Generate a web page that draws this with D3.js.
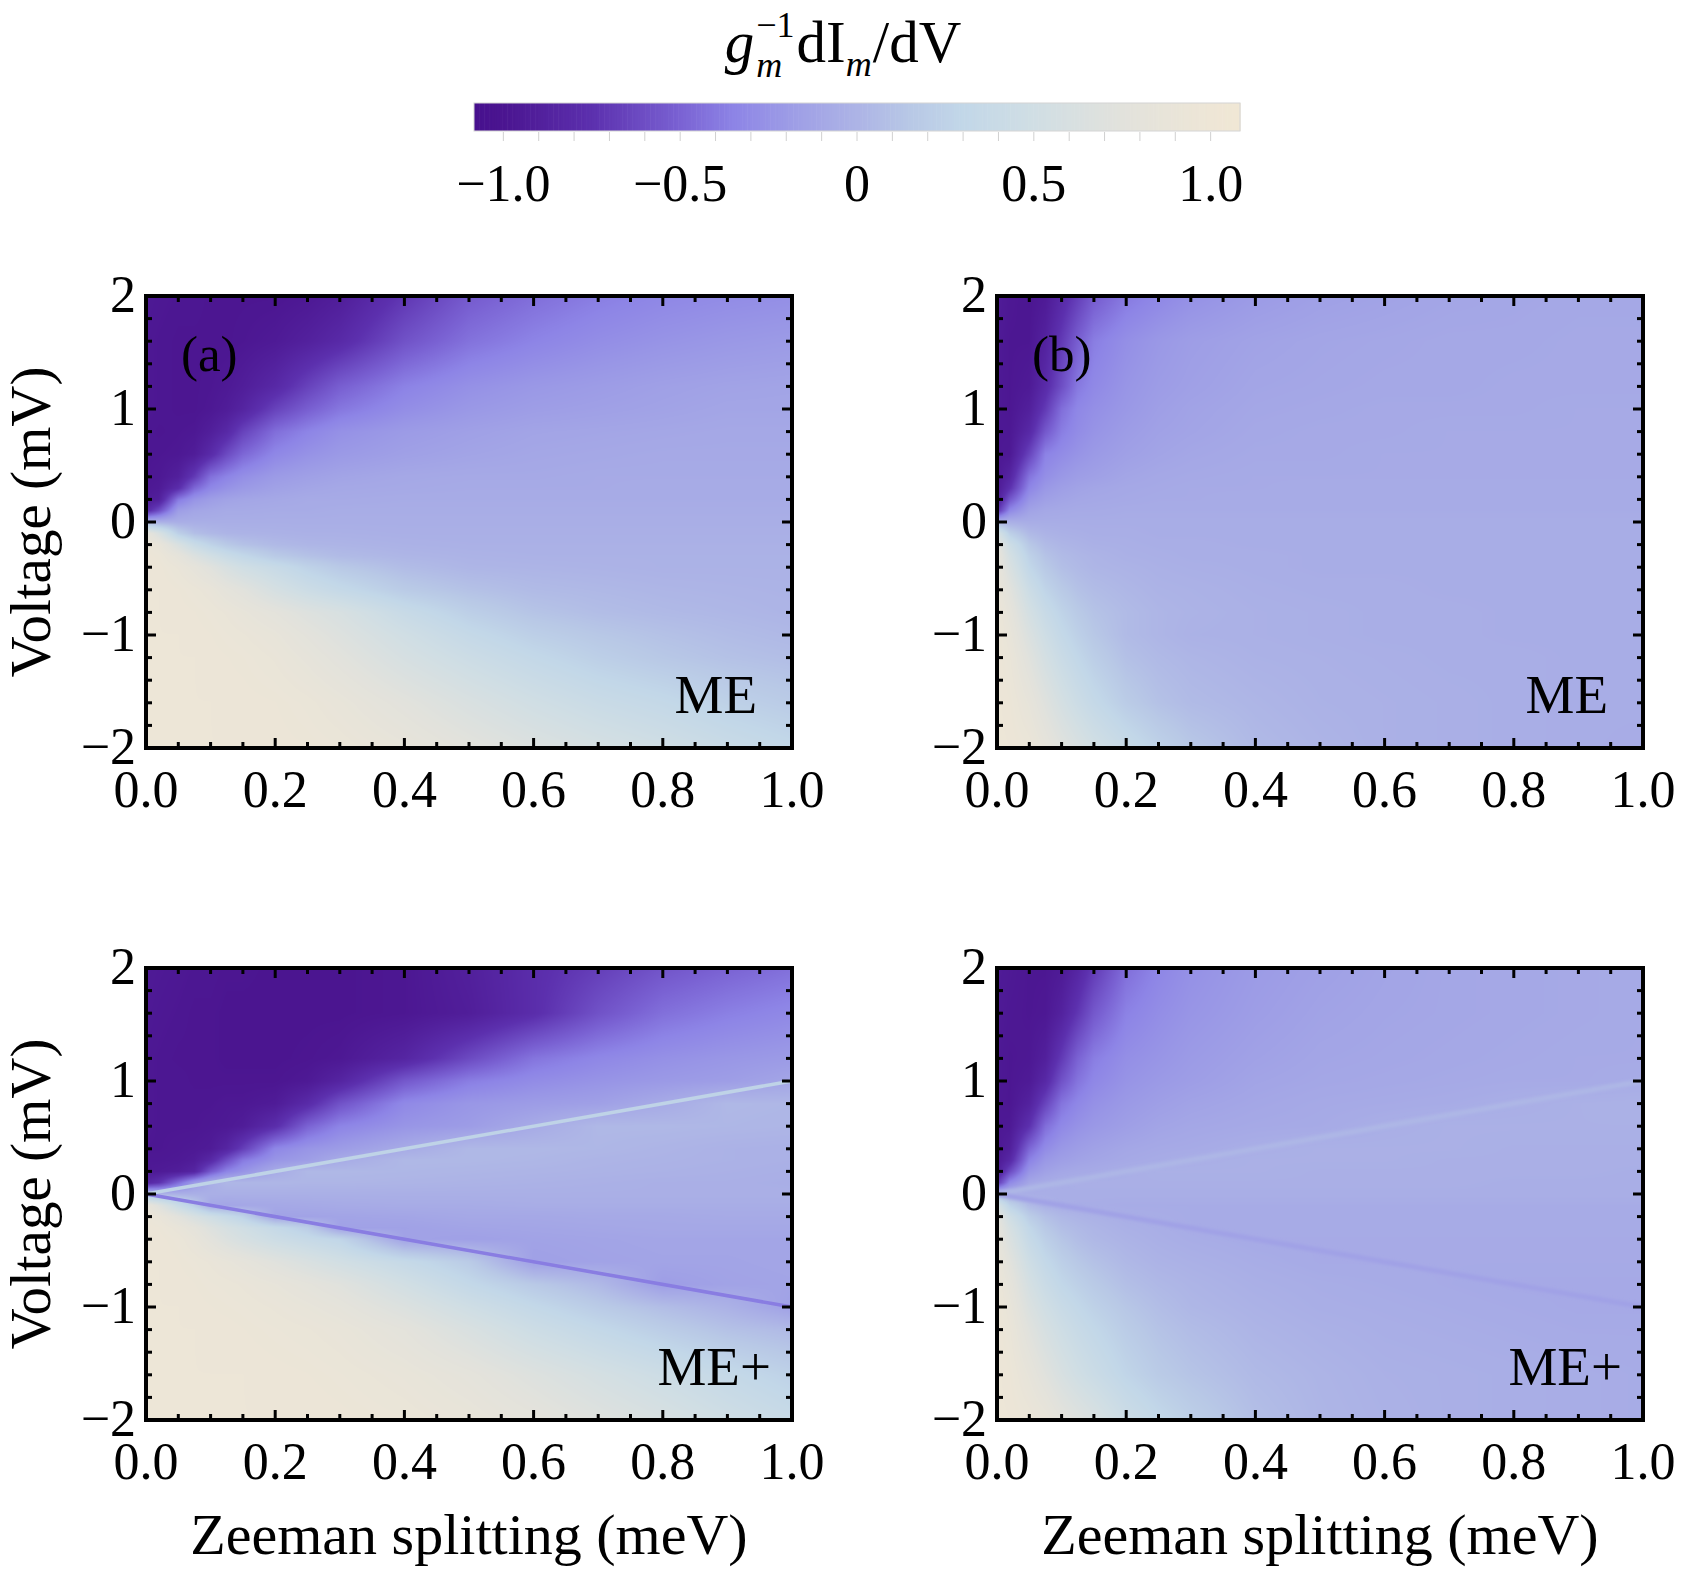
<!DOCTYPE html>
<html><head><meta charset="utf-8">
<script src="https://cdn.jsdelivr.net/npm/d3@7"></script>
<style>body{margin:0;background:#fff}svg{display:block}</style>
</head><body><svg id="chart"></svg>
<script>
// ---------------- data ----------------
const zeemanB = [0, 0.02, 0.05, 0.075, 0.1, 0.125, 0.15, 0.2, 0.25, 0.3, 0.4, 0.5, 0.6, 0.7, 0.8, 0.9, 1.0];
const voltageV = [2, 1.6, 1.2, 1.0, 0.8, 0.6, 0.4, 0.3, 0.2, 0.1, 0, -0.1, -0.2, -0.3, -0.4, -0.6, -0.8, -1.0, -1.2, -1.6, -2];

// g_m^-1 dI_m/dV, rows = voltageV, columns = zeemanB
const panelA = [
 [-0.96,-0.97,-0.98,-0.98,-0.99,-0.99,-0.99,-0.99,-0.97,-0.92,-0.72,-0.54,-0.45,-0.38,-0.33,-0.30,-0.28],
 [-0.97,-0.98,-0.99,-0.99,-0.99,-0.99,-0.98,-0.95,-0.89,-0.81,-0.58,-0.43,-0.35,-0.29,-0.25,-0.22,-0.20],
 [-0.97,-0.98,-0.99,-0.99,-0.98,-0.96,-0.92,-0.82,-0.66,-0.52,-0.36,-0.27,-0.22,-0.19,-0.16,-0.14,-0.13],
 [-0.97,-0.98,-0.99,-0.99,-0.97,-0.93,-0.86,-0.66,-0.52,-0.41,-0.29,-0.22,-0.18,-0.16,-0.14,-0.12,-0.12],
 [-0.98,-0.99,-0.98,-0.97,-0.91,-0.82,-0.66,-0.45,-0.35,-0.27,-0.20,-0.16,-0.13,-0.12,-0.11,-0.10,-0.10],
 [-0.98,-0.98,-0.97,-0.93,-0.80,-0.62,-0.48,-0.33,-0.26,-0.21,-0.16,-0.13,-0.11,-0.10,-0.09,-0.09,-0.09],
 [-0.98,-0.97,-0.90,-0.70,-0.44,-0.35,-0.28,-0.20,-0.16,-0.13,-0.10,-0.09,-0.09,-0.08,-0.08,-0.08,-0.08],
 [-0.97,-0.95,-0.78,-0.48,-0.33,-0.26,-0.21,-0.15,-0.12,-0.10,-0.09,-0.08,-0.08,-0.08,-0.07,-0.07,-0.07],
 [-0.95,-0.90,-0.40,-0.25,-0.18,-0.14,-0.12,-0.10,-0.08,-0.08,-0.07,-0.07,-0.07,-0.07,-0.07,-0.07,-0.07],
 [-0.82,-0.60,-0.18,-0.12,-0.10,-0.08,-0.08,-0.07,-0.07,-0.06,-0.06,-0.06,-0.06,-0.06,-0.06,-0.06,-0.06],
 [ 0.00,-0.03,-0.05,-0.05,-0.05,-0.05,-0.05,-0.05,-0.05,-0.05,-0.05,-0.05,-0.05,-0.05,-0.05,-0.05,-0.05],
 [ 0.85, 0.62, 0.22, 0.08, 0.03, 0.00,-0.01,-0.02,-0.03,-0.03,-0.04,-0.04,-0.04,-0.04,-0.04,-0.04,-0.04],
 [ 0.95, 0.88, 0.62, 0.40, 0.26, 0.16, 0.10, 0.04, 0.01, 0.00,-0.02,-0.03,-0.03,-0.03,-0.03,-0.03,-0.03],
 [ 0.96, 0.94, 0.82, 0.66, 0.52, 0.40, 0.31, 0.17, 0.10, 0.05, 0.01,-0.01,-0.02,-0.02,-0.02,-0.02,-0.02],
 [ 0.97, 0.96, 0.90, 0.82, 0.72, 0.60, 0.50, 0.38, 0.25, 0.16, 0.06, 0.01, 0.00,-0.01,-0.02,-0.02,-0.02],
 [ 0.97, 0.97, 0.95, 0.92, 0.88, 0.80, 0.74, 0.57, 0.44, 0.34, 0.18, 0.10, 0.05, 0.03, 0.01, 0.00,-0.01],
 [ 0.97, 0.97, 0.96, 0.95, 0.93, 0.90, 0.86, 0.78, 0.68, 0.60, 0.38, 0.22, 0.12, 0.07, 0.04, 0.02, 0.00],
 [ 0.97, 0.97, 0.97, 0.96, 0.95, 0.93, 0.91, 0.86, 0.77, 0.68, 0.50, 0.34, 0.22, 0.15, 0.10, 0.06, 0.03],
 [ 0.97, 0.97, 0.97, 0.97, 0.96, 0.95, 0.94, 0.90, 0.83, 0.75, 0.58, 0.44, 0.32, 0.22, 0.15, 0.10, 0.07],
 [ 0.97, 0.97, 0.97, 0.97, 0.97, 0.96, 0.96, 0.95, 0.92, 0.87, 0.75, 0.62, 0.50, 0.40, 0.33, 0.24, 0.18],
 [ 0.97, 0.97, 0.97, 0.97, 0.97, 0.97, 0.97, 0.96, 0.95, 0.93, 0.86, 0.76, 0.66, 0.57, 0.49, 0.40, 0.32]
];
const panelB = [
 [-0.93,-0.97,-0.99,-0.95,-0.82,-0.68,-0.54,-0.40,-0.33,-0.27,-0.20,-0.16,-0.14,-0.12,-0.11,-0.10,-0.10],
 [-0.95,-0.98,-0.98,-0.88,-0.70,-0.52,-0.38,-0.28,-0.22,-0.18,-0.14,-0.12,-0.11,-0.10,-0.10,-0.09,-0.09],
 [-0.96,-0.98,-0.95,-0.80,-0.60,-0.40,-0.32,-0.24,-0.19,-0.16,-0.12,-0.11,-0.10,-0.10,-0.09,-0.09,-0.09],
 [-0.96,-0.98,-0.90,-0.70,-0.45,-0.33,-0.28,-0.22,-0.17,-0.14,-0.11,-0.10,-0.09,-0.09,-0.09,-0.08,-0.08],
 [-0.97,-0.97,-0.82,-0.55,-0.38,-0.30,-0.25,-0.19,-0.15,-0.13,-0.10,-0.09,-0.09,-0.08,-0.08,-0.08,-0.08],
 [-0.97,-0.96,-0.65,-0.36,-0.30,-0.25,-0.21,-0.16,-0.13,-0.11,-0.09,-0.09,-0.08,-0.08,-0.08,-0.08,-0.08],
 [-0.97,-0.85,-0.42,-0.28,-0.22,-0.18,-0.16,-0.12,-0.10,-0.09,-0.08,-0.08,-0.08,-0.08,-0.08,-0.08,-0.08],
 [-0.96,-0.75,-0.34,-0.22,-0.17,-0.14,-0.12,-0.10,-0.09,-0.08,-0.08,-0.07,-0.07,-0.07,-0.07,-0.07,-0.07],
 [-0.93,-0.55,-0.24,-0.16,-0.13,-0.11,-0.10,-0.09,-0.08,-0.08,-0.07,-0.07,-0.07,-0.07,-0.07,-0.07,-0.07],
 [-0.75,-0.32,-0.14,-0.10,-0.09,-0.08,-0.08,-0.07,-0.07,-0.07,-0.07,-0.07,-0.07,-0.07,-0.07,-0.07,-0.07],
 [ 0.00,-0.04,-0.06,-0.06,-0.06,-0.06,-0.06,-0.06,-0.06,-0.06,-0.06,-0.06,-0.06,-0.06,-0.06,-0.06,-0.06],
 [ 0.60, 0.22, 0.04,-0.01,-0.03,-0.04,-0.05,-0.05,-0.06,-0.06,-0.06,-0.06,-0.06,-0.06,-0.06,-0.06,-0.06],
 [ 0.80, 0.45, 0.15, 0.05, 0.01,-0.01,-0.03,-0.04,-0.05,-0.05,-0.06,-0.06,-0.06,-0.06,-0.06,-0.06,-0.06],
 [ 0.86, 0.55, 0.24, 0.11, 0.05, 0.02, 0.00,-0.03,-0.04,-0.05,-0.05,-0.06,-0.06,-0.06,-0.06,-0.06,-0.06],
 [ 0.88, 0.62, 0.30, 0.16, 0.08, 0.04, 0.01,-0.01,-0.03,-0.04,-0.05,-0.06,-0.06,-0.06,-0.06,-0.06,-0.06],
 [ 0.92, 0.74, 0.44, 0.27, 0.17, 0.10, 0.06, 0.02,-0.01,-0.02,-0.04,-0.05,-0.05,-0.06,-0.06,-0.06,-0.06],
 [ 0.95, 0.82, 0.55, 0.38, 0.26, 0.17, 0.11, 0.05, 0.01,-0.01,-0.03,-0.04,-0.05,-0.05,-0.06,-0.06,-0.06],
 [ 0.97, 0.87, 0.64, 0.47, 0.33, 0.23, 0.15, 0.05, 0.01,-0.02,-0.03,-0.04,-0.05,-0.05,-0.06,-0.06,-0.06],
 [ 0.97, 0.91, 0.72, 0.55, 0.41, 0.30, 0.21, 0.09, 0.04, 0.01,-0.02,-0.03,-0.04,-0.05,-0.05,-0.06,-0.06],
 [ 0.98, 0.95, 0.84, 0.70, 0.56, 0.44, 0.34, 0.19, 0.10, 0.05, 0.01,-0.02,-0.03,-0.04,-0.05,-0.06,-0.06],
 [ 0.98, 0.97, 0.93, 0.83, 0.72, 0.62, 0.52, 0.38, 0.25, 0.15, 0.04, 0.00,-0.03,-0.04,-0.05,-0.06,-0.07]
];
const panelC = [
 [-0.95,-0.96,-0.97,-0.98,-0.98,-0.99,-0.99,-1.00,-1.00,-1.00,-0.98,-0.90,-0.78,-0.68,-0.57,-0.50,-0.44],
 [-0.96,-0.97,-0.98,-0.99,-0.99,-1.00,-1.00,-1.00,-1.00,-1.00,-0.98,-0.92,-0.78,-0.58,-0.44,-0.37,-0.32],
 [-0.97,-0.98,-0.99,-0.99,-0.99,-1.00,-1.00,-1.00,-0.99,-0.97,-0.85,-0.62,-0.42,-0.33,-0.27,-0.23,-0.20],
 [-0.97,-0.98,-0.98,-0.99,-0.99,-0.99,-0.99,-0.99,-0.96,-0.86,-0.55,-0.38,-0.30,-0.25,-0.21,-0.18,-0.12],
 [-0.97,-0.98,-0.98,-0.98,-0.98,-0.97,-0.97,-0.94,-0.80,-0.58,-0.32,-0.23,-0.19,-0.16,-0.08, 0.03, 0.02],
 [-0.97,-0.98,-0.98,-0.98,-0.97,-0.96,-0.93,-0.78,-0.50,-0.35,-0.24,-0.19,-0.08, 0.03, 0.03, 0.02, 0.01],
 [-0.98,-0.98,-0.97,-0.96,-0.94,-0.85,-0.68,-0.33,-0.24,-0.19,-0.08, 0.03, 0.03, 0.02, 0.00,-0.02,-0.03],
 [-0.97,-0.97,-0.96,-0.93,-0.82,-0.60,-0.40,-0.24,-0.18,-0.08, 0.03, 0.03, 0.02, 0.00,-0.01,-0.02,-0.03],
 [-0.96,-0.95,-0.92,-0.85,-0.55,-0.35,-0.25,-0.08, 0.03, 0.03, 0.02, 0.01, 0.00,-0.01,-0.02,-0.03,-0.04],
 [-0.85,-0.75,-0.45,-0.20,-0.06, 0.02, 0.02, 0.02, 0.01, 0.01, 0.00,-0.01,-0.02,-0.03,-0.04,-0.04,-0.05],
 [ 0.05, 0.00,-0.03,-0.04,-0.04,-0.04,-0.04,-0.04,-0.04,-0.04,-0.04,-0.04,-0.04,-0.04,-0.04,-0.04,-0.04],
 [ 0.88, 0.70, 0.40, 0.20,-0.10,-0.12,-0.11,-0.10,-0.09,-0.08,-0.07,-0.07,-0.06,-0.06,-0.06,-0.06,-0.06],
 [ 0.95, 0.90, 0.75, 0.60, 0.48, 0.36, 0.25,-0.14,-0.14,-0.13,-0.12,-0.10,-0.10,-0.09,-0.09,-0.08,-0.08],
 [ 0.96, 0.95, 0.88, 0.80, 0.68, 0.58, 0.50, 0.35, 0.20,-0.15,-0.15,-0.13,-0.12,-0.11,-0.10,-0.10,-0.10],
 [ 0.97, 0.96, 0.93, 0.86, 0.76, 0.66, 0.58, 0.45, 0.36, 0.28,-0.14,-0.16,-0.14,-0.13,-0.12,-0.12,-0.12],
 [ 0.97, 0.97, 0.95, 0.93, 0.90, 0.86, 0.82, 0.72, 0.62, 0.52, 0.35, 0.18,-0.16,-0.14,-0.13,-0.13,-0.12],
 [ 0.97, 0.97, 0.96, 0.95, 0.93, 0.92, 0.90, 0.85, 0.79, 0.72, 0.52, 0.32, 0.16, 0.04,-0.18,-0.14,-0.13],
 [ 0.97, 0.97, 0.97, 0.96, 0.95, 0.94, 0.93, 0.90, 0.86, 0.81, 0.66, 0.48, 0.32, 0.18, 0.07,-0.02,-0.16],
 [ 0.97, 0.97, 0.97, 0.97, 0.96, 0.96, 0.95, 0.93, 0.91, 0.88, 0.78, 0.62, 0.45, 0.32, 0.20, 0.10, 0.04],
 [ 0.97, 0.97, 0.97, 0.97, 0.97, 0.97, 0.97, 0.96, 0.95, 0.93, 0.88, 0.80, 0.68, 0.56, 0.45, 0.34, 0.24],
 [ 0.97, 0.97, 0.97, 0.97, 0.97, 0.97, 0.97, 0.97, 0.97, 0.96, 0.93, 0.88, 0.80, 0.70, 0.60, 0.48, 0.38]
];
const panelD = [
 [-0.94,-0.96,-0.98,-0.98,-0.95,-0.85,-0.70,-0.45,-0.34,-0.27,-0.20,-0.16,-0.13,-0.11,-0.10,-0.09,-0.08],
 [-0.95,-0.97,-0.98,-0.97,-0.88,-0.72,-0.55,-0.36,-0.29,-0.24,-0.18,-0.14,-0.12,-0.11,-0.10,-0.09,-0.08],
 [-0.96,-0.98,-0.97,-0.90,-0.70,-0.50,-0.38,-0.28,-0.24,-0.20,-0.15,-0.12,-0.11,-0.10,-0.09,-0.08,-0.08],
 [-0.96,-0.98,-0.95,-0.82,-0.58,-0.42,-0.33,-0.25,-0.21,-0.18,-0.13,-0.11,-0.10,-0.09,-0.08,-0.08,-0.07],
 [-0.97,-0.98,-0.88,-0.65,-0.42,-0.33,-0.27,-0.21,-0.17,-0.14,-0.11,-0.09,-0.08,-0.07,-0.05,-0.03,-0.02],
 [-0.97,-0.96,-0.75,-0.45,-0.32,-0.26,-0.22,-0.17,-0.13,-0.11,-0.09,-0.08,-0.05,-0.03,-0.03,-0.03,-0.03],
 [-0.97,-0.90,-0.48,-0.30,-0.22,-0.18,-0.15,-0.11,-0.09,-0.08,-0.05,-0.03,-0.03,-0.03,-0.04,-0.04,-0.04],
 [-0.96,-0.82,-0.36,-0.22,-0.17,-0.14,-0.12,-0.09,-0.07,-0.05,-0.03,-0.03,-0.03,-0.04,-0.04,-0.04,-0.04],
 [-0.93,-0.62,-0.24,-0.15,-0.11,-0.09,-0.08,-0.05,-0.03,-0.03,-0.03,-0.04,-0.04,-0.04,-0.04,-0.04,-0.05],
 [-0.72,-0.32,-0.11,-0.07,-0.05,-0.04,-0.04,-0.04,-0.04,-0.04,-0.04,-0.04,-0.04,-0.04,-0.05,-0.05,-0.05],
 [ 0.05,-0.03,-0.05,-0.05,-0.05,-0.05,-0.05,-0.05,-0.05,-0.05,-0.05,-0.05,-0.05,-0.05,-0.05,-0.05,-0.05],
 [ 0.60, 0.25, 0.05,-0.02,-0.05,-0.06,-0.06,-0.07,-0.07,-0.07,-0.07,-0.07,-0.07,-0.07,-0.07,-0.07,-0.07],
 [ 0.78, 0.48, 0.20, 0.09, 0.03, 0.00,-0.02,-0.05,-0.06,-0.07,-0.07,-0.07,-0.07,-0.07,-0.07,-0.07,-0.07],
 [ 0.83, 0.58, 0.30, 0.16, 0.08, 0.04, 0.01,-0.03,-0.05,-0.07,-0.07,-0.07,-0.07,-0.07,-0.07,-0.07,-0.07],
 [ 0.86, 0.64, 0.36, 0.22, 0.13, 0.07, 0.03,-0.01,-0.04,-0.06,-0.08,-0.08,-0.08,-0.08,-0.08,-0.08,-0.08],
 [ 0.91, 0.74, 0.47, 0.32, 0.22, 0.15, 0.10, 0.03,-0.01,-0.03,-0.06,-0.08,-0.08,-0.08,-0.08,-0.08,-0.08],
 [ 0.95, 0.82, 0.56, 0.41, 0.30, 0.23, 0.17, 0.08, 0.03, 0.00,-0.04,-0.06,-0.07,-0.08,-0.09,-0.09,-0.09],
 [ 0.97, 0.87, 0.64, 0.50, 0.39, 0.31, 0.24, 0.14, 0.07, 0.02,-0.02,-0.05,-0.06,-0.07,-0.08,-0.09,-0.09],
 [ 0.97, 0.91, 0.72, 0.58, 0.47, 0.38, 0.31, 0.19, 0.11, 0.06, 0.00,-0.03,-0.05,-0.06,-0.07,-0.08,-0.08],
 [ 0.98, 0.95, 0.84, 0.72, 0.60, 0.50, 0.42, 0.28, 0.18, 0.12, 0.04, 0.00,-0.03,-0.04,-0.05,-0.06,-0.07],
 [ 0.98, 0.97, 0.93, 0.88, 0.78, 0.70, 0.62, 0.44, 0.32, 0.22, 0.08, 0.01,-0.02,-0.04,-0.05,-0.06,-0.07]
];

// resonance lines V = +B and V = -B (visible in ME+ panels)
const resonanceB = [0, 1];
const upperResonanceV = [0, 1];
const lowerResonanceV = [0, -1];
const resonanceValuesC = [0.26, -0.38];
const resonanceValuesD = [0.02, -0.15];

const xTicks = [0, 0.2, 0.4, 0.6, 0.8, 1.0];
const xTickLabels = ["0.0", "0.2", "0.4", "0.6", "0.8", "1.0"];
const yTicks = [2, 1, 0, -1, -2];
const yTickLabels = ["2", "1", "0", "\u22121", "\u22122"];
const cbTicks = [-1, -0.5, 0, 0.5, 1];
const cbTickLabels = ["\u22121.0", "\u22120.5", "0", "0.5", "1.0"];

const colorStops = [-1.083, -1, -0.75, -0.5, -0.35, -0.22, -0.1, 0, 0.15, 0.3, 0.5, 0.75, 1, 1.083];
const colorHex = ["#47108e", "#4b1590", "#5c30ae", "#7a62d3", "#8d84e6", "#9a98e6", "#a5a8e6",
                  "#adb4e6", "#b8c8e6", "#c2d7e8", "#d0dee4", "#e2e2dc", "#eee6d6", "#f0e7d5"];

const panelLetters = ["(a)", "(b)", "", ""];
const panelTags = ["ME", "ME", "ME+", "ME+"];

// ---------------- drawing ----------------
const W = 1686, H = 1569;
const FONT = "'Liberation Serif','Times New Roman',serif";
const svg = d3.select('#chart').attr('width', W).attr('height', H);
svg.append('rect').attr('width', W).attr('height', H).attr('fill', '#fff');
const defs = svg.append('defs');

const color = d3.scaleLinear().domain(colorStops).range(colorHex).interpolate(d3.interpolateRgb).clamp(true);
const LUTN = 1024;
const lut = d3.range(LUTN).map(k => d3.rgb(color(-1.083 + 2.166 * k / (LUTN - 1))));

const panels = [
  {grid: panelA, x0: 146, x1: 792, y0: 296, y1: 748, res: null, yTitle: true, xTitle: false},
  {grid: panelB, x0: 997, x1: 1643, y0: 296, y1: 748, res: null, yTitle: false, xTitle: false},
  {grid: panelC, x0: 146, x1: 792, y0: 968, y1: 1420, res: resonanceValuesC, resW: 3.5, resBlur: 0.7, yTitle: true, xTitle: true},
  {grid: panelD, x0: 997, x1: 1643, y0: 968, y1: 1420, res: resonanceValuesD, resW: 5, resBlur: 1.5, yTitle: false, xTitle: true}
];

panels.forEach((p, idx) => {
  const xs = d3.scaleLinear().domain([0, 1]).range([p.x0, p.x1]);
  const ys = d3.scaleLinear().domain([-2, 2]).range([p.y1, p.y0]);
  const g = svg.append('g');

  // heat map (bilinear shading between the read grid values)
  const w = Math.round(p.x1 - p.x0), h = Math.round(p.y1 - p.y0);
  const cv = document.createElement('canvas'); cv.width = w; cv.height = h;
  const ctx = cv.getContext('2d'); const img = ctx.createImageData(w, h);
  const ci = new Int32Array(w), ct = new Float32Array(w);
  for (let px = 0; px < w; px++) {
    const b = xs.invert(p.x0 + px + 0.5);
    let i = d3.bisectRight(zeemanB, b) - 1;
    i = Math.max(0, Math.min(zeemanB.length - 2, i));
    ci[px] = i;
    ct[px] = Math.max(0, Math.min(1, (b - zeemanB[i]) / (zeemanB[i + 1] - zeemanB[i])));
  }
  for (let py = 0; py < h; py++) {
    const v = ys.invert(p.y0 + py + 0.5);
    let j = 0;
    while (j < voltageV.length - 2 && v < voltageV[j + 1]) j++;
    const tv = Math.max(0, Math.min(1, (voltageV[j] - v) / (voltageV[j] - voltageV[j + 1])));
    const r0 = p.grid[j], r1 = p.grid[j + 1];
    for (let px = 0; px < w; px++) {
      const i = ci[px], t = ct[px];
      const a = r0[i] * (1 - t) + r0[i + 1] * t;
      const c = r1[i] * (1 - t) + r1[i + 1] * t;
      const val = a * (1 - tv) + c * tv;
      let k = Math.round((val + 1.083) / 2.166 * (LUTN - 1));
      k = Math.max(0, Math.min(LUTN - 1, k));
      const col = lut[k], o = (py * w + px) * 4;
      img.data[o] = col.r; img.data[o + 1] = col.g; img.data[o + 2] = col.b; img.data[o + 3] = 255;
    }
  }
  ctx.putImageData(img, 0, 0);
  g.append('image').attr('x', p.x0).attr('y', p.y0).attr('width', w).attr('height', h)
    .attr('preserveAspectRatio', 'none').attr('href', cv.toDataURL());

  // resonance lines
  if (p.res) {
    const cid = 'clip' + idx, fid = 'blur' + idx;
    defs.append('clipPath').attr('id', cid).append('rect')
      .attr('x', p.x0).attr('y', p.y0).attr('width', p.x1 - p.x0).attr('height', p.y1 - p.y0);
    defs.append('filter').attr('id', fid).attr('x', '-10%').attr('y', '-10%').attr('width', '120%').attr('height', '120%')
      .append('feGaussianBlur').attr('stdDeviation', p.resBlur);
    const line = d3.line().x(d => xs(d[0])).y(d => ys(d[1]));
    const lg = g.append('g').attr('clip-path', `url(#${cid})`).attr('filter', `url(#${fid})`);
    [upperResonanceV, lowerResonanceV].forEach((vv, li) => {
      lg.append('path').attr('d', line(resonanceB.map((b, m) => [b, vv[m]])))
        .attr('fill', 'none').attr('stroke', color(p.res[li])).attr('stroke-width', p.resW);
    });
  }

  // ticks (inside, all four sides)
  const tg = g.append('g').attr('stroke', '#000').attr('stroke-width', 3);
  d3.range(0, 1.0001, 0.05).forEach(t => {
    const major = Math.abs(t * 5 - Math.round(t * 5)) < 1e-6;
    const L = major ? 10 : 6;
    tg.append('line').attr('x1', xs(t)).attr('x2', xs(t)).attr('y1', p.y1).attr('y2', p.y1 - L);
    tg.append('line').attr('x1', xs(t)).attr('x2', xs(t)).attr('y1', p.y0).attr('y2', p.y0 + L);
  });
  d3.range(-2, 2.0001, 0.2).forEach(t => {
    const major = Math.abs(t - Math.round(t)) < 1e-6;
    const L = major ? 10 : 6;
    tg.append('line').attr('y1', ys(t)).attr('y2', ys(t)).attr('x1', p.x0).attr('x2', p.x0 + L);
    tg.append('line').attr('y1', ys(t)).attr('y2', ys(t)).attr('x1', p.x1).attr('x2', p.x1 - L);
  });

  // frame
  g.append('rect').attr('x', p.x0).attr('y', p.y0).attr('width', p.x1 - p.x0).attr('height', p.y1 - p.y0)
    .attr('fill', 'none').attr('stroke', '#000').attr('stroke-width', 4);

  // tick labels
  xTicks.forEach((t, i) => {
    g.append('text').attr('x', xs(t)).attr('y', p.y1 + 59).attr('text-anchor', 'middle')
      .attr('font-family', FONT).attr('font-size', 52).text(xTickLabels[i]);
  });
  yTicks.forEach((t, i) => {
    g.append('text').attr('x', p.x0 - 10).attr('y', ys(t) + 16).attr('text-anchor', 'end')
      .attr('font-family', FONT).attr('font-size', 52).text(yTickLabels[i]);
  });

  // panel letter and tag
  if (panelLetters[idx]) {
    g.append('text').attr('x', p.x0 + 35).attr('y', p.y0 + 75).attr('font-family', FONT)
      .attr('font-size', 51).text(panelLetters[idx]);
  }
  const tag = panelTags[idx];
  g.append('text').attr('x', tag === 'ME' ? p.x1 - 35 : p.x1 - 21).attr('y', p.y1 - 35)
    .attr('text-anchor', 'end').attr('font-family', FONT).attr('font-size', 55).text(tag);

  // axis titles
  if (p.yTitle) {
    g.append('text').attr('transform', `translate(50,${(p.y0 + p.y1) / 2}) rotate(-90)`)
      .attr('text-anchor', 'middle').attr('font-family', FONT).attr('font-size', 57).text('Voltage (mV)');
  }
  if (p.xTitle) {
    g.append('text').attr('x', (p.x0 + p.x1) / 2).attr('y', 1554).attr('text-anchor', 'middle')
      .attr('font-family', FONT).attr('font-size', 58).text('Zeeman splitting (meV)');
  }
});

// ---------------- colour bar ----------------
const cb = svg.append('g');
const cbX = d3.scaleLinear().domain([-1.083, 1.083]).range([474, 1240]);
const cbY0 = 103, cbY1 = 131;
const nSteps = 300;
d3.range(nSteps).forEach(k => {
  const v0 = -1.083 + 2.166 * k / nSteps, v1 = -1.083 + 2.166 * (k + 1) / nSteps;
  cb.append('rect').attr('x', cbX(v0)).attr('y', cbY0).attr('width', cbX(v1) - cbX(v0) + 0.6)
    .attr('height', cbY1 - cbY0).attr('fill', color((v0 + v1) / 2));
});
cb.append('rect').attr('x', cbX(-1.083)).attr('y', cbY0).attr('width', cbX(1.083) - cbX(-1.083))
  .attr('height', cbY1 - cbY0).attr('fill', 'none').attr('stroke', '#d4d4d4').attr('stroke-width', 1);
d3.range(-1, 1.0001, 0.1).forEach(t => {
  cb.append('line').attr('x1', cbX(t)).attr('x2', cbX(t)).attr('y1', cbY1 + 1).attr('y2', cbY1 + 10)
    .attr('stroke', '#d0d0d0').attr('stroke-width', 1);
});
cbTicks.forEach((t, i) => {
  cb.append('text').attr('x', cbX(t)).attr('y', 201).attr('text-anchor', 'middle')
    .attr('font-family', FONT).attr('font-size', 52).text(cbTickLabels[i]);
});

// title: g_m^{-1} dI_m/dV  (superscript and subscript stacked after g)
const title = svg.append('g').attr('font-family', FONT);
const base = 62, big = 59, small = 36;
let cx = 0;
function put(str, size, dy, italic) {
  const t = title.append('text').attr('x', cx).attr('y', base + dy).attr('font-size', size)
    .attr('font-style', italic ? 'italic' : 'normal').text(str);
  return t.node().getComputedTextLength();
}
cx += put('g', big, 0, true) + 2;
const wSup = put('\u22121', small, -25, false);
const wSub = put('m', small, 15, true);
cx += Math.max(wSup, wSub) + 2;
cx += put('dI', big, 0, false);
cx += put('m', small, 14, true) + 1;
cx += put('/dV', big, 0, false);
title.attr('transform', `translate(${843 - cx / 2},0)`);
</script>
</body></html>
